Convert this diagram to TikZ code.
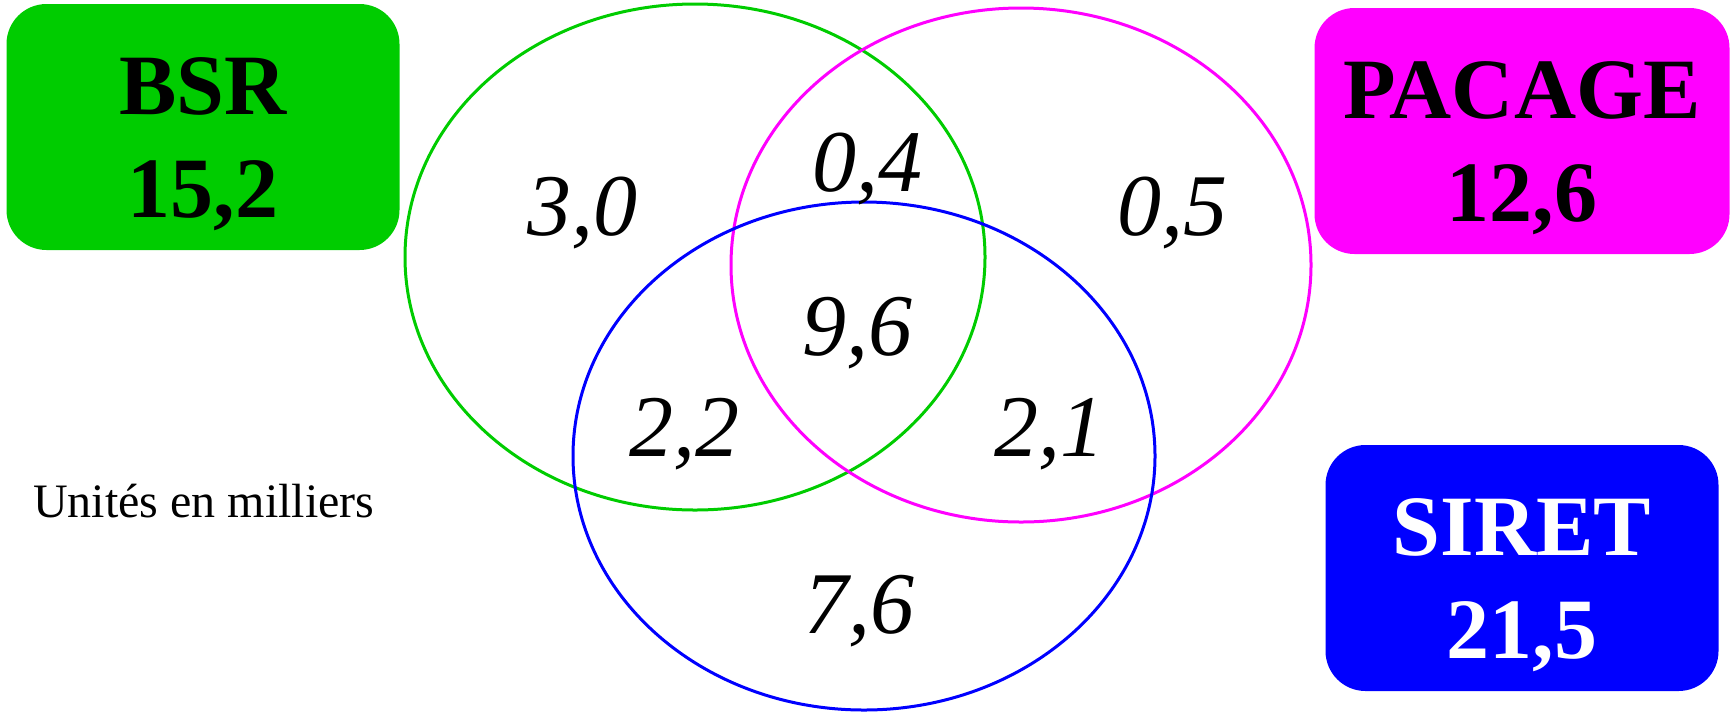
\documentclass[tikz,border=0pt]{standalone}
\usepackage{fontspec}
\setmainfont{Liberation Serif}
\usepackage{xcolor}
\usetikzlibrary{calc}

\definecolor{bsrgreen}{HTML}{00CC00}
\definecolor{pacmag}{HTML}{FF00FF}
\definecolor{siretblue}{HTML}{0000FF}

\begin{document}
\begin{tikzpicture}[x=1pt, y=-1pt,
  setbox/.style={rounded corners=40pt, minimum width=393pt, minimum height=246pt,
    align=center, inner sep=0pt, font=\fontsize{86}{103}\selectfont\bfseries},
  val/.style={anchor=base, inner sep=0pt, font=\fontsize{88}{100}\selectfont\itshape},
  ring/.style={line width=3pt}]
  \useasboundingbox (0,0) rectangle (1731,716);
  % ensembles
  \coordinate (cB) at (695,257);
  \coordinate (cP) at (1021,265);
  \coordinate (cS) at (864,456);
  \draw[ring, bsrgreen] (cB) ellipse[x radius=290pt, y radius=253pt];
  \draw[ring, pacmag] (cP) ellipse[x radius=290pt, y radius=257pt];
  \draw[ring, siretblue] (cS) ellipse[x radius=291pt, y radius=254pt];
  % cartouches
  \node[setbox, fill=bsrgreen] (bsr) at (203,127) {\rule{0pt}{92pt}BSR\\15,2};
  \node[setbox, fill=pacmag, minimum width=415pt] (pacage) at (1522,131) {\rule{0pt}{92pt}PACAGE\\12,6};
  \node[setbox, fill=siretblue, text=white] (siret) at (1522,568) {\rule{0pt}{92pt}SIRET\\21,5};
  % effectifs
  \node[val] (vB) at (582,235) {3,0};
  \node[val] (vBP) at (867,191) {0,4};
  \node[val] (vP) at (1172,235) {0,5};
  \node[val] (vBPS) at (857,355) {9,6};
  \node[val] (vBS) at (684,456) {2,2};
  \node[val] (vPS) at (1049,456) {2,1};
  \node[val] (vS) at (859,633) {7,6};
  \node[anchor=base west, inner sep=0pt, font=\fontsize{48}{58}\selectfont] (unit) at (33,517) {Unités en milliers};
\end{tikzpicture}
\end{document}
